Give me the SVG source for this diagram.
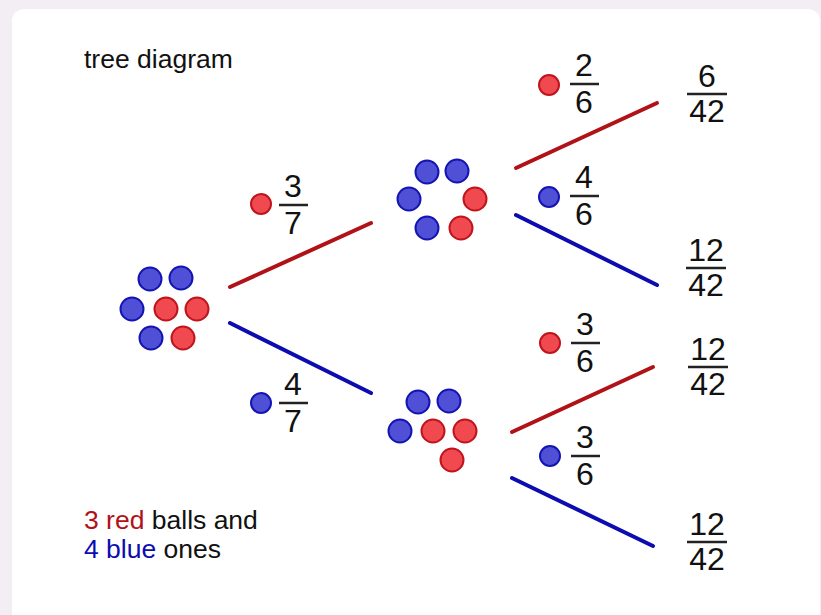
<svg xmlns="http://www.w3.org/2000/svg" width="821" height="615" viewBox="0 0 821 615">
  <style>
    text { font-family: "Liberation Sans", Arial, sans-serif; fill: #111; }
    .label { font-size: 26.5px; }
    .num { font-size: 32px; text-anchor: middle; }
    .bar { stroke: #222; stroke-width: 2.5; }
    .r { fill: #f04a50; stroke: #c0141c; stroke-width: 2; }
    .b { fill: #5050d6; stroke: #1414b4; stroke-width: 2; }
    .lr { stroke: #b01218; stroke-width: 4; stroke-linecap: round; }
    .lb { stroke: #0c0cb0; stroke-width: 4; stroke-linecap: round; }
  </style>

  <!-- page and card -->
  <rect width="821" height="615" fill="#f3eef4"/>
  <rect x="12" y="9" width="808" height="640" rx="12" fill="#ffffff"/>

  <text class="label" x="84" y="68">tree diagram</text>

  <!-- branches -->
  <g id="connectors">
    <line class="lr" x1="230" y1="287" x2="371" y2="223"/>
    <line class="lb" x1="230" y1="323" x2="371" y2="393"/>
    <line class="lr" x1="516" y1="168" x2="657" y2="103"/>
    <line class="lb" x1="516" y1="215" x2="657" y2="285"/>
    <line class="lr" x1="512" y1="432" x2="653" y2="367"/>
    <line class="lb" x1="512" y1="478" x2="653" y2="546"/>
  </g>

  <!-- starting bag: 3 red, 4 blue -->
  <g id="start">
    <circle class="b" cx="150" cy="279" r="11.5"/>
    <circle class="b" cx="181" cy="278" r="11.5"/>
    <circle class="b" cx="132" cy="309" r="11.5"/>
    <circle class="r" cx="166" cy="309" r="11.5"/>
    <circle class="r" cx="197" cy="309" r="11.5"/>
    <circle class="b" cx="151" cy="338" r="11.5"/>
    <circle class="r" cx="183" cy="338" r="11.5"/>
  </g>

  <!-- after a red draw -->
  <g id="after-red">
    <circle class="b" cx="427" cy="172" r="11.5"/>
    <circle class="b" cx="457" cy="171" r="11.5"/>
    <circle class="b" cx="409" cy="199" r="11.5"/>
    <circle class="r" cx="475" cy="199" r="11.5"/>
    <circle class="b" cx="427" cy="228" r="11.5"/>
    <circle class="r" cx="461" cy="228" r="11.5"/>
  </g>

  <!-- after a blue draw -->
  <g id="after-blue">
    <circle class="b" cx="418" cy="402" r="11.5"/>
    <circle class="b" cx="449" cy="401" r="11.5"/>
    <circle class="b" cx="400" cy="431" r="11.5"/>
    <circle class="r" cx="433" cy="431" r="11.5"/>
    <circle class="r" cx="465" cy="431" r="11.5"/>
    <circle class="r" cx="452" cy="460" r="11.5"/>
  </g>

  <!-- first-draw probabilities -->
  <g id="p-red-1">
    <circle class="r" cx="261" cy="204" r="10"/>
    <text class="num" x="293" y="197">3</text>
    <line class="bar" x1="279" y1="205" x2="308" y2="205"/>
    <text class="num" x="293" y="234">7</text>
  </g>
  <g id="p-blue-1">
    <circle class="b" cx="261" cy="403" r="10"/>
    <text class="num" x="293" y="395">4</text>
    <line class="bar" x1="279" y1="403" x2="308" y2="403"/>
    <text class="num" x="293" y="432">7</text>
  </g>

  <!-- second-draw probabilities -->
  <g id="p-red-red">
    <circle class="r" cx="549" cy="85" r="10"/>
    <text class="num" x="584" y="76">2</text>
    <line class="bar" x1="570" y1="84" x2="599" y2="84"/>
    <text class="num" x="584" y="113">6</text>
  </g>
  <g id="p-red-blue">
    <circle class="b" cx="549" cy="197" r="10"/>
    <text class="num" x="584" y="188">4</text>
    <line class="bar" x1="570" y1="196" x2="599" y2="196"/>
    <text class="num" x="584" y="225">6</text>
  </g>
  <g id="p-blue-red">
    <circle class="r" cx="550" cy="343" r="10"/>
    <text class="num" x="585" y="335">3</text>
    <line class="bar" x1="571" y1="343" x2="600" y2="343"/>
    <text class="num" x="585" y="372">6</text>
  </g>
  <g id="p-blue-blue">
    <circle class="b" cx="550" cy="456" r="10"/>
    <text class="num" x="585" y="448">3</text>
    <line class="bar" x1="571" y1="456" x2="600" y2="456"/>
    <text class="num" x="585" y="485">6</text>
  </g>

  <!-- outcome probabilities -->
  <g id="o-rr">
    <text class="num" x="707" y="87">6</text>
    <line class="bar" x1="687" y1="94" x2="727" y2="94"/>
    <text class="num" x="707" y="122">42</text>
  </g>
  <g id="o-rb">
    <text class="num" x="706" y="261">12</text>
    <line class="bar" x1="686" y1="268" x2="726" y2="268"/>
    <text class="num" x="706" y="296">42</text>
  </g>
  <g id="o-br">
    <text class="num" x="708" y="360">12</text>
    <line class="bar" x1="688" y1="367" x2="728" y2="367"/>
    <text class="num" x="708" y="395">42</text>
  </g>
  <g id="o-bb">
    <text class="num" x="707" y="535">12</text>
    <line class="bar" x1="687" y1="542" x2="727" y2="542"/>
    <text class="num" x="707" y="570">42</text>
  </g>

  <!-- key -->
  <text class="label" x="84" y="529"><tspan fill="#b01218">3 red</tspan> balls and</text>
  <text class="label" x="84" y="558"><tspan fill="#0c0cb0">4 blue</tspan> ones</text>
</svg>
